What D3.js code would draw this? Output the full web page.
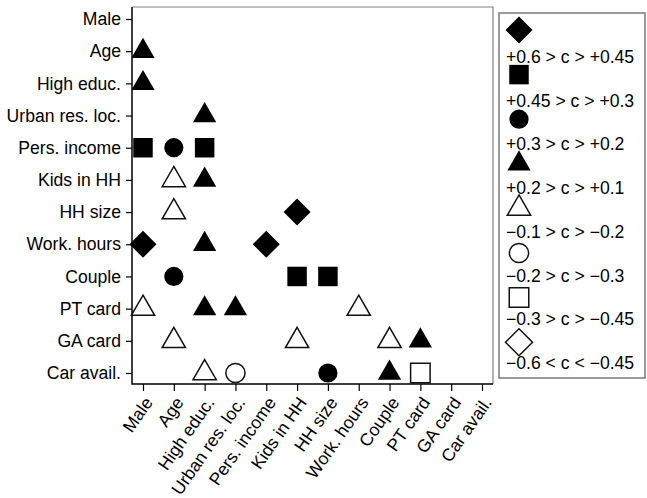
<!DOCTYPE html>
<html>
<head>
<meta charset="utf-8">
<script src="https://cdn.jsdelivr.net/npm/d3@7"></script>
<style>
  html, body { margin: 0; padding: 0; background: #fff; }
  svg { display: block; font-family: "Liberation Sans", Arial, Helvetica, sans-serif; }
</style>
</head>
<body>
<svg id="chart" width="647" height="498"></svg>
<script>
// Variables shown on both axes
const variables = ["Male", "Age", "High educ.", "Urban res. loc.", "Pers. income",
  "Kids in HH", "HH size", "Work. hours", "Couple", "PT card", "GA card", "Car avail."];

// Correlation classes (legend order)
const classLabels = [
  "+0.6 > c > +0.45",
  "+0.45 > c > +0.3",
  "+0.3 > c > +0.2",
  "+0.2 > c > +0.1",
  "\u22120.1 > c > \u22120.2",
  "\u22120.2 > c > \u22120.3",
  "\u22120.3 > c > \u22120.45",
  "\u22120.6 < c < \u22120.45"
];
const classShapes = ["diamond", "square", "circle", "triangle", "triangle", "circle", "square", "diamond"];
const classFilled = [true, true, true, true, false, false, false, false];

// Significant pairs: [row variable, column variable, class index]
const cells = [
  ["Age", "Male", 3],
  ["High educ.", "Male", 3],
  ["Urban res. loc.", "High educ.", 3],
  ["Pers. income", "Male", 1],
  ["Pers. income", "Age", 2],
  ["Pers. income", "High educ.", 1],
  ["Kids in HH", "Age", 4],
  ["Kids in HH", "High educ.", 3],
  ["HH size", "Age", 4],
  ["HH size", "Kids in HH", 0],
  ["Work. hours", "Male", 0],
  ["Work. hours", "High educ.", 3],
  ["Work. hours", "Pers. income", 0],
  ["Couple", "Age", 2],
  ["Couple", "Kids in HH", 1],
  ["Couple", "HH size", 1],
  ["PT card", "Male", 4],
  ["PT card", "High educ.", 3],
  ["PT card", "Urban res. loc.", 3],
  ["PT card", "Work. hours", 4],
  ["GA card", "Age", 4],
  ["GA card", "Kids in HH", 4],
  ["GA card", "Couple", 4],
  ["GA card", "PT card", 3],
  ["Car avail.", "High educ.", 4],
  ["Car avail.", "Urban res. loc.", 5],
  ["Car avail.", "HH size", 2],
  ["Car avail.", "Couple", 3],
  ["Car avail.", "PT card", 6]
];

const svg = d3.select("#chart");
const fontSize = 17.6;

const frame = { left: 132, top: 7, right: 493, bottom: 384 };

const x = d3.scalePoint().domain(variables).range([143, 482]);
const y = d3.scalePoint().domain(variables).range([19, 373]);

// Diamond as a square turned by 45 degrees
const symbolRhomb = {
  draw(context, size) {
    const h = Math.sqrt(size * 2) / 2;
    context.moveTo(0, -h);
    context.lineTo(h, 0);
    context.lineTo(0, h);
    context.lineTo(-h, 0);
    context.closePath();
  }
};
const shapeType = {
  diamond: symbolRhomb,
  square: d3.symbolSquare,
  circle: d3.symbolCircle,
  triangle: d3.symbolTriangle
};
const shapeSize = { diamond: 365, square: 380, circle: 290, triangle: 235 };
const symbolPath = (ci) => d3.symbol().type(shapeType[classShapes[ci]]).size(shapeSize[classShapes[ci]])();

// Plot frame: light top/right edges
svg.append("path")
  .attr("d", `M${frame.left},${frame.top}H${frame.right}V${frame.bottom}`)
  .attr("fill", "none")
  .attr("stroke", "#808080")
  .attr("stroke-width", 1.2);

// Axes
const yAxis = svg.append("g")
  .attr("transform", `translate(${frame.left},0)`)
  .call(d3.axisLeft(y).tickSize(6).tickPadding(5).tickSizeOuter(0));
const xAxis = svg.append("g")
  .attr("transform", `translate(0,${frame.bottom})`)
  .call(d3.axisBottom(x).tickSize(7).tickPadding(5).tickSizeOuter(0));

[yAxis, xAxis].forEach(g => {
  g.select(".domain").remove();
  g.selectAll(".tick line").attr("stroke", "#000").attr("stroke-width", 1.2);
  g.selectAll(".tick text")
    .attr("fill", "#000")
    .style("font-size", fontSize + "px")
    .style("font-family", "'Liberation Sans', Arial, Helvetica, sans-serif");
});

xAxis.selectAll(".tick text")
  .attr("text-anchor", "end")
  .attr("x", 0)
  .attr("y", 0)
  .attr("dy", "0.35em")
  .attr("transform", "translate(5,15) rotate(-55)");

// Axis lines (left and bottom)
svg.append("path")
  .attr("d", `M${frame.left},${frame.top}V${frame.bottom}H${frame.right}`)
  .attr("fill", "none")
  .attr("stroke", "#000")
  .attr("stroke-width", 1.5);

// Markers
svg.append("g")
  .selectAll("path")
  .data(cells)
  .join("path")
  .attr("transform", d => `translate(${x(d[1])},${y(d[0])})`)
  .attr("d", d => symbolPath(d[2]))
  .attr("fill", d => classFilled[d[2]] ? "#000" : "#fff")
  .attr("stroke", d => classFilled[d[2]] ? "none" : "#111")
  .attr("stroke-width", 1.5);

// Legend
const legend = { left: 499, top: 13, right: 645, bottom: 378 };
svg.append("rect")
  .attr("x", legend.left)
  .attr("y", legend.top)
  .attr("width", legend.right - legend.left)
  .attr("height", legend.bottom - legend.top)
  .attr("fill", "#fff")
  .attr("stroke", "#707070")
  .attr("stroke-width", 1.4);

const items = svg.append("g")
  .selectAll("g")
  .data(classLabels)
  .join("g");

items.append("path")
  .attr("transform", (d, i) => `translate(519,${30 + 44.6 * i})`)
  .attr("d", (d, i) => symbolPath(i))
  .attr("fill", (d, i) => classFilled[i] ? "#000" : "#fff")
  .attr("stroke", (d, i) => classFilled[i] ? "none" : "#111")
  .attr("stroke-width", 1.5);

items.append("text")
  .attr("x", 506)
  .attr("y", (d, i) => 63 + 43.7 * i)
  .style("font-size", fontSize + "px")
  .attr("fill", "#000")
  .text(d => d);
</script>
</body>
</html>
